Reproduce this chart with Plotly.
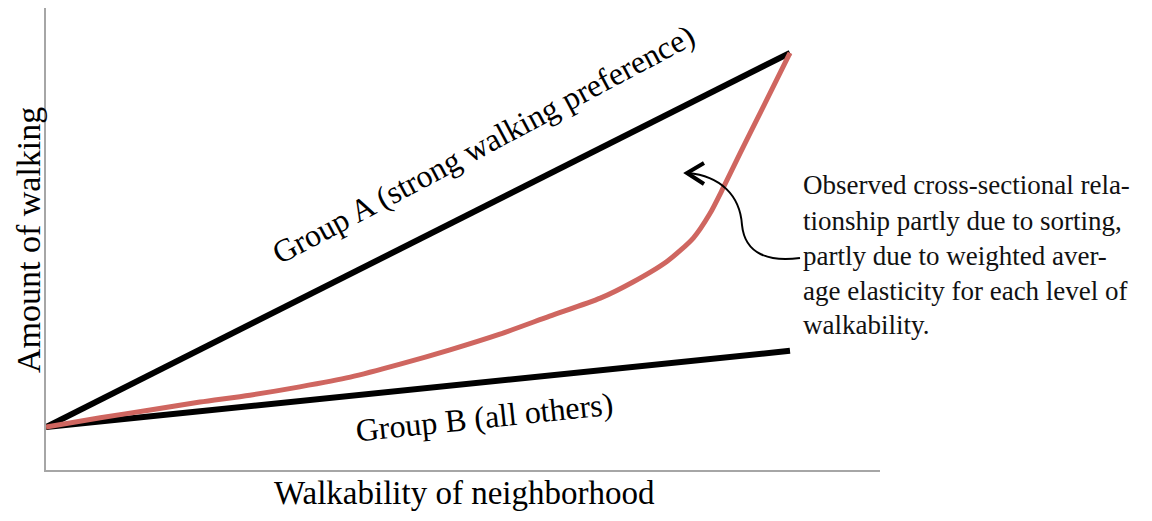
import plotly.graph_objects as go

# ---- data ----
walk_x = [0.0, 1.0]
group_a_y = [0.93, 9.03]
group_b_y = [0.93, 2.58]

observed_x = [0.0, 0.073, 0.140, 0.207, 0.274, 0.341, 0.409, 0.476, 0.543, 0.610,
              0.677, 0.745, 0.789, 0.835, 0.870, 0.892, 0.910, 0.933, 0.960, 1.0]
observed_y = [0.93, 1.13, 1.30, 1.47, 1.62, 1.80, 2.01, 2.29, 2.60, 2.94,
              3.33, 3.72, 4.07, 4.52, 5.02, 5.54, 6.10, 6.86, 7.73, 9.03]

note_lines = [
    "Observed cross-sectional rela-",
    "tionship partly due to sorting,",
    "partly due to weighted aver-",
    "age elasticity for each level of",
    "walkability.",
]

# page geometry (the html body adds an 8px margin around the figure)
OFF = 8
PAGE_W, PAGE_H = 1152, 521
W, H = PAGE_W - 2 * OFF, PAGE_H - 2 * OFF
L, R, T, B = 46, 880, 8, 470          # plot area in page pixels
SERIF = "Liberation Serif, Times New Roman, serif"


def px(x):
    return (x - L) / (R - L)


def py(y):
    return (B - y) / (B - T)


fig = go.Figure()
fig.add_trace(go.Scatter(x=walk_x, y=group_a_y, mode="lines",
                         line=dict(color="black", width=6), hoverinfo="skip"))
fig.add_trace(go.Scatter(x=walk_x, y=group_b_y, mode="lines",
                         line=dict(color="black", width=6), hoverinfo="skip"))
fig.add_trace(go.Scatter(x=observed_x, y=observed_y, mode="lines",
                         line=dict(color="#cf6660", width=5, shape="spline", smoothing=0.7),
                         hoverinfo="skip"))

annotations = [
    dict(x=0.588, y=7.05, xref="x", yref="y", text="Group A (strong walking preference)",
         showarrow=False, textangle=-28, xanchor="center", yanchor="middle",
         font=dict(family=SERIF, size=32, color="black")),
    dict(x=0.59, y=1.15, xref="x", yref="y", text="Group B (all others)",
         showarrow=False, textangle=-6, xanchor="center", yanchor="middle",
         font=dict(family=SERIF, size=32, color="black")),
    dict(x=px(464), y=py(493), xref="paper", yref="paper", text="Walkability of neighborhood",
         showarrow=False, xanchor="center", yanchor="middle",
         font=dict(family=SERIF, size=33, color="black")),
    dict(x=px(28), y=py(240), xref="paper", yref="paper", text="Amount of walking",
         showarrow=False, textangle=-90, xanchor="center", yanchor="middle",
         font=dict(family=SERIF, size=34, color="black")),
]
line_y = [185, 221, 256, 291, 325]
for t, yy in zip(note_lines, line_y):
    annotations.append(dict(x=px(801), y=py(yy), xref="paper", yref="paper", text=t,
                            showarrow=False, xanchor="left", yanchor="middle",
                            font=dict(family=SERIF, size=27, color="#111111")))


def pt(x, y):
    return f"{px(x):.5f},{py(y):.5f}"


arrow_path = (f"M {pt(800,258)} C {pt(770,262)} {pt(745,255)} {pt(742,225)} "
              f"C {pt(740,195)} {pt(720,176)} {pt(688,173)}")
head_path = f"M {pt(704,163)} L {pt(687,173)} L {pt(704,184)}"

shapes = [
    dict(type="path", path=arrow_path, xref="paper", yref="paper",
         line=dict(color="black", width=2)),
    dict(type="path", path=head_path, xref="paper", yref="paper",
         line=dict(color="black", width=4)),
]

fig.update_layout(
    width=W, height=H,
    margin=dict(l=L - OFF, r=(PAGE_W - OFF) - R, t=T - OFF, b=(PAGE_H - OFF) - B, pad=0),
    paper_bgcolor="white", plot_bgcolor="white",
    showlegend=False,
    annotations=annotations, shapes=shapes,
    xaxis=dict(range=[0, (R - L) / 744], showline=True, linecolor="#a6a6a6", linewidth=2,
               showgrid=False, zeroline=False, showticklabels=False, ticks="", fixedrange=True),
    yaxis=dict(range=[0, (B - T) / 46.2], showline=True, linecolor="#a6a6a6", linewidth=2,
               showgrid=False, zeroline=False, showticklabels=False, ticks="", fixedrange=True),
)

fig.write_html("out.html")
